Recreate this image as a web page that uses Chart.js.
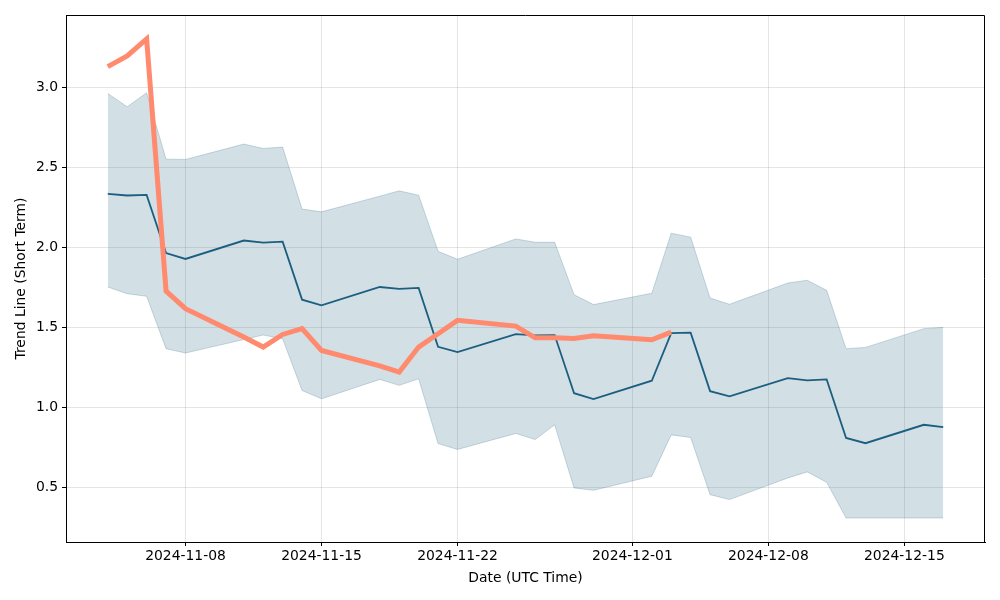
<!DOCTYPE html>
<html>
<head>
<meta charset="utf-8">
<script src="https://cdn.jsdelivr.net/npm/chart.js@4.4.1/dist/chart.umd.min.js"></script>
<style>
  html, body { margin: 0; background: #fff; }
  #wrap { width: 1000px; height: 600px; }
</style>
</head>
<body>
<div id="wrap"><canvas id="chart"></canvas></div>
<script>
// trading days shown on the chart
const dates = [
  '2024-11-04', '2024-11-05', '2024-11-06', '2024-11-07', '2024-11-08',
  '2024-11-11', '2024-11-12', '2024-11-13', '2024-11-14', '2024-11-15',
  '2024-11-18', '2024-11-19', '2024-11-20', '2024-11-21', '2024-11-22',
  '2024-11-25', '2024-11-26', '2024-11-27', '2024-11-28', '2024-11-29',
  '2024-12-02', '2024-12-03', '2024-12-04', '2024-12-05', '2024-12-06',
  '2024-12-09', '2024-12-10', '2024-12-11', '2024-12-12', '2024-12-13',
  '2024-12-16', '2024-12-17'
];
// short-term trend line (dark) and its band
const trend = [
  2.333, 2.323, 2.327, 1.964, 1.927, 2.042, 2.029, 2.035, 1.673, 1.638,
  1.752, 1.740, 1.746, 1.379, 1.346, 1.458, 1.450, 1.452, 1.089, 1.052,
  1.167, 1.464, 1.467, 1.102, 1.069, 1.183, 1.169, 1.175, 0.810, 0.777,
  0.892, 0.877
];
const upper = [
  2.960, 2.877, 2.964, 2.550, 2.548, 2.644, 2.617, 2.625, 2.238, 2.221,
  2.319, 2.352, 2.325, 1.975, 1.925, 2.052, 2.031, 2.031, 1.704, 1.642,
  1.713, 2.088, 2.063, 1.683, 1.644, 1.777, 1.794, 1.731, 1.367, 1.375,
  1.492, 1.500
];
const lower = [
  1.752, 1.710, 1.694, 1.367, 1.340, 1.424, 1.452, 1.429, 1.106, 1.054,
  1.175, 1.138, 1.179, 0.775, 0.738, 0.838, 0.800, 0.892, 0.498, 0.483,
  0.571, 0.829, 0.813, 0.456, 0.425, 0.560, 0.598, 0.533, 0.310, 0.310,
  0.310, 0.310
];
// actual values (orange), Nov 4 - Dec 3
const actual = [
  3.127, 3.194, 3.300, 1.727, 1.617, 1.440, 1.377, 1.456, 1.492, 1.356,
  1.260, 1.221, 1.377, 1.460, 1.544, 1.508, 1.435, 1.435, 1.430, 1.448,
  1.423, 1.470
];
const xTickLabels = ['2024-11-08', '2024-11-15', '2024-11-22', '2024-12-01', '2024-12-08', '2024-12-15'];
const yTicks = [0.5, 1.0, 1.5, 2.0, 2.5, 3.0];

const DAY0 = Date.UTC(2024, 10, 1);
function toDay(s) {
  const [y, m, d] = s.split('-').map(Number);
  return (Date.UTC(y, m - 1, d) - DAY0) / 86400000;
}
function toLabel(v) {
  const d = new Date(DAY0 + Math.round(v) * 86400000);
  return d.toISOString().slice(0, 10);
}
const pts = arr => arr.map((v, i) => ({ x: toDay(dates[i]), y: v }));

// matplotlib-style 5% margins
const xs = dates.map(toDay);
const xMin = Math.min(...xs), xMax = Math.max(...xs);
const xPad = (xMax - xMin) * 0.05;
const allY = upper.concat(lower, actual);
const yLo = Math.min(...allY), yHi = Math.max(...allY);
const yPad = (yHi - yLo) * 0.05;

const FONT = { family: 'DejaVu Sans', size: 13.9 };

// top and right edges of the axes box
const framePlugin = {
  id: 'frame',
  afterDraw(c) {
    const { ctx, chartArea: a } = c;
    ctx.save();
    ctx.strokeStyle = '#000';
    ctx.lineWidth = 1;
    ctx.beginPath();
    ctx.moveTo(a.left, a.top + 0.5);
    ctx.lineTo(a.right - 0.5, a.top + 0.5);
    ctx.lineTo(a.right - 0.5, a.bottom);
    ctx.stroke();
    ctx.restore();
  }
};

new Chart(document.getElementById('chart'), {
  type: 'line',
  data: {
    datasets: [
      {
        label: 'actual',
        data: pts(actual),
        borderColor: '#ff8a6e',
        borderWidth: 5,
        borderCapStyle: 'butt',
        pointRadius: 0,
        fill: false,
        order: 0
      },
      {
        label: 'trend',
        data: pts(trend),
        borderColor: '#1c5e80',
        borderWidth: 1.8,
        pointRadius: 0,
        fill: false,
        order: 1
      },
      {
        label: 'upper',
        data: pts(upper),
        borderColor: 'rgba(31,95,127,0.22)',
        borderWidth: 1,
        backgroundColor: 'rgba(31,95,127,0.2)',
        pointRadius: 0,
        fill: '+1',
        order: 2
      },
      {
        label: 'lower',
        data: pts(lower),
        borderColor: 'rgba(31,95,127,0.22)',
        borderWidth: 1,
        pointRadius: 0,
        fill: false,
        order: 3
      }
    ]
  },
  options: {
    responsive: true,
    maintainAspectRatio: false,
    animation: false,
    parsing: false,
    layout: { padding: { top: 15, right: 15, left: 0, bottom: 0 } },
    plugins: { legend: { display: false }, tooltip: { enabled: false } },
    scales: {
      x: {
        type: 'linear',
        min: xMin - xPad,
        max: xMax + xPad,
        afterBuildTicks: s => { s.ticks = xTickLabels.map(t => ({ value: toDay(t) })); },
        afterFit: s => { s.height = 58; },
        ticks: { callback: v => toLabel(v), font: FONT, color: '#000', padding: 2, maxRotation: 0 },
        grid: { color: 'rgba(0,0,0,0.1)', tickColor: '#000', tickLength: 4 },
        border: { color: '#000' },
        title: { display: true, text: 'Date (UTC Time)', font: FONT, color: '#000', padding: { top: 0, bottom: 13 } }
      },
      y: {
        min: yLo - yPad,
        max: yHi + yPad,
        afterBuildTicks: s => { s.ticks = yTicks.map(v => ({ value: v })); },
        afterFit: s => { s.width = 66; },
        ticks: { callback: v => v.toFixed(1), font: FONT, color: '#000', padding: 4 },
        grid: { color: 'rgba(0,0,0,0.1)', tickColor: '#000', tickLength: 4 },
        border: { color: '#000' },
        title: { display: true, text: 'Trend Line (Short Term)', font: FONT, color: '#000', padding: { top: 13, bottom: 0 } }
      }
    }
  },
  plugins: [framePlugin]
});
</script>
</body>
</html>
